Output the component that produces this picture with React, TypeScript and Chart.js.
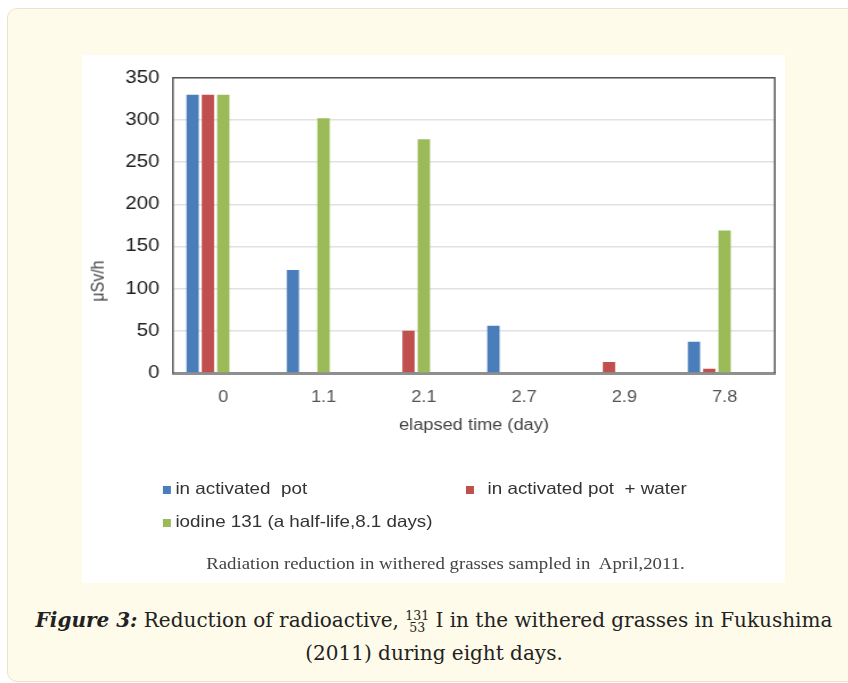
import React, { useEffect, useRef } from "react";
import { Chart, registerables } from "chart.js";

Chart.register(...registerables);

const categories = ["0", "1.1", "2.1", "2.7", "2.9", "7.8"];
const seriesLabels = ["in activated  pot", "in activated pot  + water", "iodine 131 (a half-life,8.1 days)"];
const seriesColors = ["#4a7ebb", "#c0504d", "#9bbb59"];
const activatedPot: (number | null)[] = [330, 122, null, 56, null, 37];
const activatedPotWater: (number | null)[] = [330, null, 50, null, 13, 5];
const iodine131: (number | null)[] = [330, 302, 277, null, null, 169];
const yTicks = [0, 50, 100, 150, 200, 250, 300, 350];
const xTitle = "elapsed time (day)";
const yTitle = "μSv/h";
const innerCaption = "Radiation reduction in withered grasses sampled in  April,2011.";

const STRETCH = 703 / 617;

const framePlugin = {
  id: "frame",
  afterDraw(chart: any) {
    const { ctx, chartArea } = chart;
    ctx.save();
    ctx.strokeStyle = "#555";
    ctx.lineWidth = 1.5;
    ctx.beginPath();
    ctx.moveTo(chartArea.left, chartArea.top);
    ctx.lineTo(chartArea.right, chartArea.top);
    ctx.lineTo(chartArea.right, chartArea.bottom);
    ctx.stroke();
    ctx.restore();
  },
};

export default function App() {
  const ref = useRef<HTMLCanvasElement>(null);

  useEffect(() => {
    if (!ref.current) return;
    const series = [activatedPot, activatedPotWater, iodine131];
    const datasets: any[] = series.map((d, i) => ({
      label: seriesLabels[i],
      data: d,
      backgroundColor: seriesColors[i],
      borderWidth: 0,
      categoryPercentage: 0.765,
      barPercentage: 0.8,
    }));
    // two empty series slots (as in the original figure's grouping)
    datasets.push({ label: "", data: [], categoryPercentage: 0.765, barPercentage: 0.8 });
    datasets.push({ label: "", data: [], categoryPercentage: 0.765, barPercentage: 0.8 });

    const chart = new Chart(ref.current, {
      type: "bar",
      data: { labels: categories, datasets },
      plugins: [framePlugin],
      options: {
        responsive: false,
        animation: false,
        devicePixelRatio: 1,
        layout: { padding: { left: 0, right: 9, top: 16, bottom: 0 } },
        plugins: { legend: { display: false }, tooltip: { enabled: false } },
        scales: {
          x: {
            grid: { display: false },
            border: { color: "#8f8f8f", width: 3 },
            ticks: {
              color: "#555",
              font: { family: "'Liberation Sans', Arial, sans-serif", size: 16 },
              padding: 7,
            },
            title: {
              display: true,
              text: xTitle,
              color: "#444",
              font: { family: "'Liberation Sans', Arial, sans-serif", size: 16 },
              padding: { top: 0, bottom: 5 },
            },
            afterFit(scale: any) {
              scale.height = 67;
            },
          },
          y: {
            min: 0,
            max: 350,
            afterBuildTicks(scale: any) {
              scale.ticks = yTicks.map((v) => ({ value: v }));
            },
            grid: { color: "#e2e2e2", lineWidth: 1.5, drawTicks: false },
            border: { color: "#555", width: 1.5 },
            ticks: {
              color: "#222",
              font: { family: "'Liberation Sans', Arial, sans-serif", size: 18 },
              padding: 12,
            },
            afterFit(scale: any) {
              scale.width = 80;
            },
          },
        },
      },
    });
    return () => chart.destroy();
  }, []);

  const legendFont: React.CSSProperties = {
    position: "absolute",
    fontFamily: "'Liberation Sans', Arial, sans-serif",
    fontSize: 16.5,
    color: "#333",
    whiteSpace: "pre",
    lineHeight: "20px",
  };
  const legendPos = [
    { left: 71, top: 423 },
    { left: 337, top: 423 },
    { left: 71, top: 456 },
  ];

  return (
    <div style={{ position: "absolute", left: 0, top: 0, width: 848, height: 683, overflow: "hidden", background: "#fff" }}>
      <div
        style={{
          position: "absolute",
          left: 7,
          top: 8,
          width: 960,
          height: 672,
          background: "#fefbea",
          border: "1px solid #e8e4cf",
          borderRadius: 10,
        }}
      />
      <div style={{ position: "absolute", left: 82, top: 55, width: 703, height: 528, background: "#fff" }} />
      <div
        style={{
          position: "absolute",
          left: 82,
          top: 55,
          width: 617,
          height: 528,
          transform: `scaleX(${STRETCH})`,
          transformOrigin: "0 0",
        }}
      >
        <canvas ref={ref} width={617} height={385} style={{ position: "absolute", left: 0, top: 0 }} />
        <div
          style={{
            position: "absolute",
            left: 14,
            top: 226,
            transform: "translate(-50%, -50%) rotate(-90deg)",
            fontFamily: "'Liberation Sans', Arial, sans-serif",
            fontSize: 16,
            color: "#444",
            whiteSpace: "nowrap",
            lineHeight: "18px",
          }}
        >
          {yTitle}
        </div>
        {seriesLabels.map((lab, i) => (
          <div key={i} style={{ ...legendFont, left: legendPos[i].left, top: legendPos[i].top }}>
            <span
              style={{
                display: "inline-block",
                width: 7,
                height: 8,
                background: seriesColors[i],
                marginRight: i === 1 ? 12 : 4,
                verticalAlign: "0px",
              }}
            />
            {lab}
          </div>
        ))}
        <div
          style={{
            position: "absolute",
            left: 109,
            top: 499,
            fontFamily: "'Liberation Serif', 'Times New Roman', serif",
            fontSize: 16.5,
            color: "#444",
            whiteSpace: "pre",
            lineHeight: "20px",
          }}
        >
          {innerCaption}
        </div>
      </div>
      <div
        style={{
          position: "absolute",
          left: 34,
          top: 604,
          width: 800,
          textAlign: "center",
          fontFamily: "'DejaVu Serif', serif",
          fontSize: 20,
          color: "#222",
          lineHeight: "33px",
        }}
      >
        <b>
          <i>Figure 3:</i>
        </b>{" "}
        Reduction of radioactive,{" "}
        <span
          style={{
            display: "inline-flex",
            flexDirection: "column",
            alignItems: "center",
            fontSize: 12.5,
            lineHeight: "12px",
            verticalAlign: "middle",
          }}
        >
          <span>131</span>
          <span>53</span>
        </span>{" "}
        I in the withered grasses in Fukushima
        <br />
        (2011) during eight days.
      </div>
    </div>
  );
}
